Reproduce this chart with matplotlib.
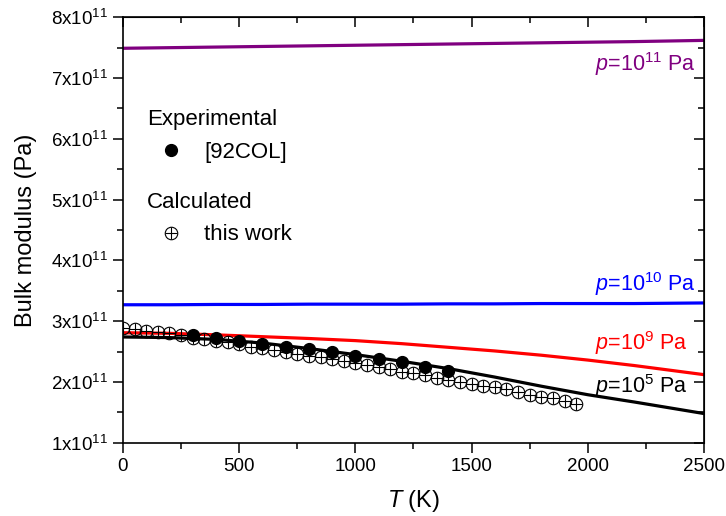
import numpy as np
import matplotlib
matplotlib.use("Agg")
from matplotlib import pyplot as plt
from matplotlib.ticker import MultipleLocator, FuncFormatter

plt.rcParams['font.family'] = ['Liberation Sans', 'DejaVu Sans']
plt.rcParams['mathtext.fontset'] = 'custom'
plt.rcParams['mathtext.rm'] = 'Liberation Sans'
plt.rcParams['mathtext.it'] = 'Liberation Sans:italic'

#%% Data (bulk modulus in units of 1e11 Pa)
T_line = [0, 200, 400, 600, 800, 1000, 1200, 1400, 1600, 1800, 2000, 2200, 2500]
B_p5 = [2.74, 2.73, 2.70, 2.64, 2.55, 2.45, 2.34, 2.22, 2.08, 1.93, 1.79, 1.67, 1.48]
B_p9 = [2.81, 2.80, 2.775, 2.745, 2.715, 2.68, 2.63, 2.57, 2.51, 2.44, 2.36, 2.27, 2.12]
B_p10 = [3.27, 3.27, 3.275, 3.275, 3.28, 3.28, 3.28, 3.285, 3.285, 3.29, 3.29, 3.29, 3.30]
B_p11 = [7.49, 7.50, 7.51, 7.52, 7.53, 7.54, 7.55, 7.56, 7.57, 7.58, 7.59, 7.60, 7.62]

T_exp = [300, 400, 500, 600, 700, 800, 900, 1000, 1100, 1200, 1300, 1400]
B_exp = [2.775, 2.72, 2.68, 2.63, 2.58, 2.54, 2.49, 2.43, 2.38, 2.33, 2.25, 2.18]

T_calc = list(range(0, 2000, 50))
B_calc = [2.89, 2.87, 2.84, 2.82, 2.80, 2.77, 2.73, 2.70, 2.68, 2.65,
          2.62, 2.58, 2.56, 2.52, 2.49, 2.46, 2.43, 2.41, 2.37, 2.34,
          2.31, 2.28, 2.24, 2.21, 2.17, 2.14, 2.11, 2.07, 2.04, 2.00,
          1.97, 1.94, 1.91, 1.88, 1.83, 1.79, 1.76, 1.73, 1.69, 1.64]

scale = 1e11

#%% Figure
fig = plt.figure(figsize=(7.26, 5.16), dpi=100)
ax = fig.add_axes([0.1694, 0.142, 0.8003, 0.8245])

lw = 2.3
ax.plot(T_line, np.array(B_p11) * scale, color='purple', lw=lw)
ax.plot(T_line, np.array(B_p10) * scale, color='blue', lw=lw)
ax.plot(T_line, np.array(B_p9) * scale, color='red', lw=lw)
ax.plot(T_line, np.array(B_p5) * scale, color='black', lw=lw)

calc_o, = ax.plot(T_calc, np.array(B_calc) * scale, 'o', mfc='none', mec='black', ms=9, mew=0.8)
calc_p, = ax.plot(T_calc, np.array(B_calc) * scale, '+', color='black', ms=9, mew=0.8)
exp_h, = ax.plot(T_exp, np.array(B_exp) * scale, 'o', color='black', ms=8.5)

# curve labels
fs = 15.5
ax.text(0.985, 0.874, r'$\mathit{p}$=10$^{11}$ Pa', transform=ax.transAxes, color='purple', ha='right', va='baseline', fontsize=fs)
ax.text(0.986, 0.357, r'$\mathit{p}$=10$^{10}$ Pa', transform=ax.transAxes, color='blue', ha='right', va='baseline', fontsize=fs)
ax.text(0.972, 0.218, r'$\mathit{p}$=10$^{9}$ Pa', transform=ax.transAxes, color='red', ha='right', va='baseline', fontsize=fs)
ax.text(0.972, 0.116, r'$\mathit{p}$=10$^{5}$ Pa', transform=ax.transAxes, color='black', ha='right', va='baseline', fontsize=fs)

# legends
lfs = 16
leg1 = ax.legend([exp_h], ['[92COL]'], title='Experimental', loc='upper left',
                 bbox_to_anchor=(0.015, 0.82), frameon=False, fontsize=lfs,
                 title_fontsize=lfs, alignment='left', handlelength=2.15, handletextpad=0.4,
                 borderpad=0.2)
ax.add_artist(leg1)
ax.legend([(calc_o, calc_p)], ['this work'], title='Calculated', loc='upper left',
          bbox_to_anchor=(0.015, 0.625), frameon=False, fontsize=lfs,
          title_fontsize=lfs, alignment='left', handlelength=2.15, handletextpad=0.4,
          borderpad=0.2)

#%% Axes
ax.set_xlim(0, 2500)
ax.set_ylim(1e11, 8e11)
ax.xaxis.set_major_locator(MultipleLocator(500))
ax.xaxis.set_minor_locator(MultipleLocator(250))
ax.yaxis.set_major_locator(MultipleLocator(1e11))
ax.yaxis.set_minor_locator(MultipleLocator(0.5e11))
ax.yaxis.set_major_formatter(FuncFormatter(lambda v, p: r'%dx10$^{11}$' % round(v / scale)))

ax.tick_params(which='both', direction='out', top=False, right=False, labelsize=13.5, width=1.1, pad=4)
ax.tick_params(which='major', length=7)
ax.tick_params(which='minor', length=4)
ax2 = ax.secondary_xaxis('top')
ax2.xaxis.set_major_locator(MultipleLocator(500))
ax2.xaxis.set_minor_locator(MultipleLocator(250))
ax2.tick_params(which='both', direction='in', labeltop=False, width=1.1)
ax2.tick_params(which='major', length=7)
ax2.tick_params(which='minor', length=4)
ay2 = ax.secondary_yaxis('right')
ay2.yaxis.set_major_locator(MultipleLocator(1e11))
ay2.yaxis.set_minor_locator(MultipleLocator(0.5e11))
ay2.tick_params(which='both', direction='in', labelright=False, width=1.1)
ay2.tick_params(which='major', length=7)
ay2.tick_params(which='minor', length=4)
for s in ax.spines.values():
    s.set_linewidth(1.2)

ax.set_xlabel(r'$\mathit{T}$ (K)', fontsize=17, labelpad=9)
ax.set_ylabel('Bulk modulus (Pa)', fontsize=17, labelpad=10)

fig.savefig('out.png', dpi=100)
